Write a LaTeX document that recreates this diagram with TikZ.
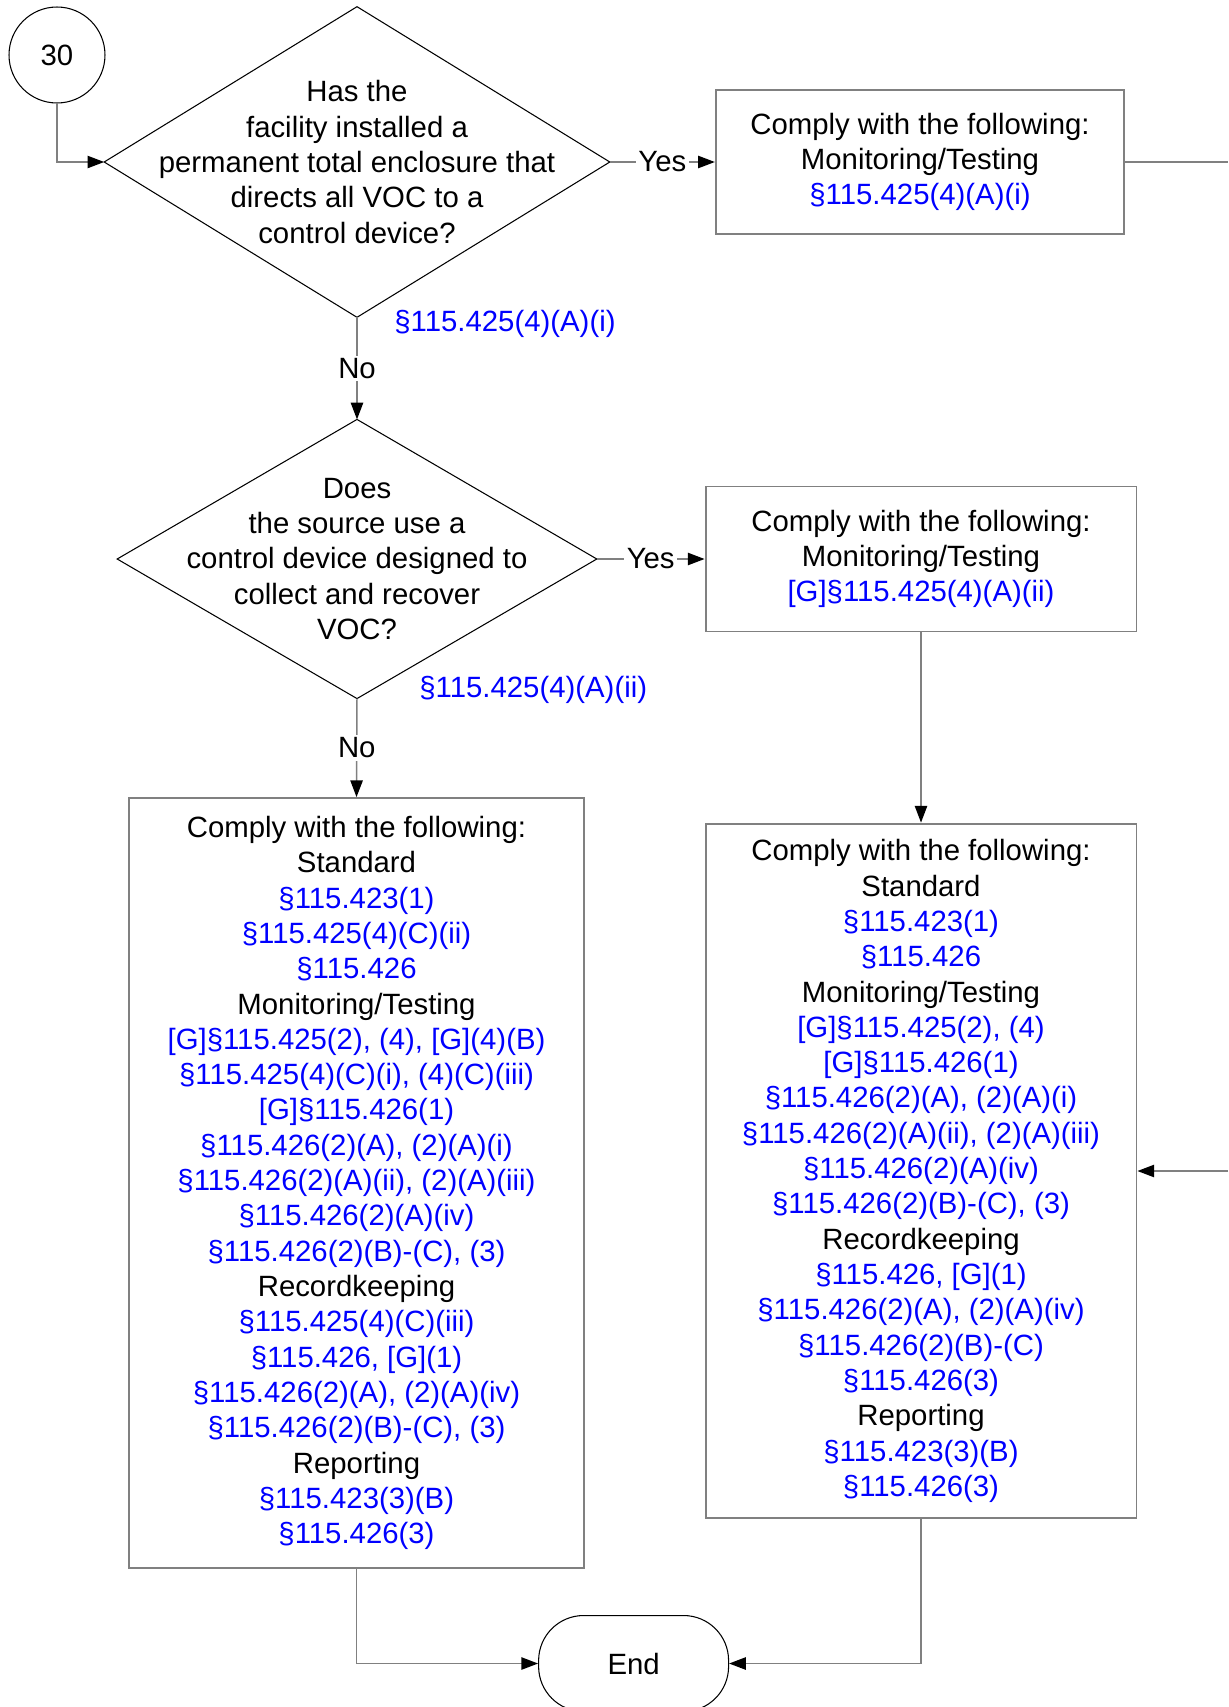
\documentclass[tikz,border=0pt]{standalone}
\usepackage{fontspec}
\setmainfont{Liberation Sans}
\usetikzlibrary{arrows.meta}
\newcommand{\regref}[1]{\textcolor{blue}{#1}}

\begin{document}
\begin{tikzpicture}[x=0.02cm,y=-0.02cm,
		every node/.style={font=\fontsize{16.7}{20.1}\selectfont},
		connector/.style={draw=gray,line width=0.85pt,-{Triangle[length=9.5pt,width=7pt,color=black]}},
		plainline/.style={draw=gray,line width=0.85pt},
		compbox/.style={draw=gray,line width=1.1pt,align=center,inner sep=0pt},
		decision/.style={align=center,inner sep=0pt},
		dborder/.style={draw=black,line width=0.6pt},
		regtag/.style={text=blue,inner sep=0pt,anchor=west},
		choice/.style={fill=white,inner sep=1.5pt}]
			\useasboundingbox (0,0) rectangle (1228,1707);
			
			% start connector and the two questions
			\node[circle,draw=black,line width=0.6pt,minimum size=1.92cm,inner sep=0pt] (start) at (57,55) {30};
			\node[decision,minimum width=10.1cm,minimum height=6.2cm] (q1) at (357,162)
			{Has the\\facility installed a\\permanent total enclosure that\\directs all VOC to a\\control device?};
			\node[decision,minimum width=9.58cm,minimum height=5.57cm] (q2) at (357,559)
			{Does\\the source use a\\control device designed to\\collect and recover\\VOC?};
			\foreach \q in {q1,q2}
			\draw[dborder] (\q.north) -- (\q.east) -- (\q.south) -- (\q.west) -- cycle;
			
			\node[regtag] (tag1) at (394,324) {§115.425(4)(A)(i)};
			\node[regtag] (tag2) at (419,690) {§115.425(4)(A)(ii)};
			
			% requirement boxes
			\node[compbox,minimum width=8.17cm,minimum height=2.87cm] (mon1) at (920,162)
			{Comply with the following:\\Monitoring/Testing\\\regref{§115.425(4)(A)(i)}};
			\node[compbox,minimum width=8.62cm,minimum height=2.9cm] (mon2) at (921,559)
			{Comply with the following:\\Monitoring/Testing\\\regref{[G]§115.425(4)(A)(ii)}};
			\node[compbox,minimum width=9.12cm,minimum height=15.4cm] (full) at (356.5,1183)
			{Comply with the following:\\Standard\\
				\regref{§115.423(1)}\\\regref{§115.425(4)(C)(ii)}\\\regref{§115.426}\\
				Monitoring/Testing\\
				\regref{[G]§115.425(2), (4), [G](4)(B)}\\\regref{§115.425(4)(C)(i), (4)(C)(iii)}\\
				\regref{[G]§115.426(1)}\\\regref{§115.426(2)(A), (2)(A)(i)}\\
				\regref{§115.426(2)(A)(ii), (2)(A)(iii)}\\\regref{§115.426(2)(A)(iv)}\\
				\regref{§115.426(2)(B)-(C), (3)}\\
				Recordkeeping\\
				\regref{§115.425(4)(C)(iii)}\\\regref{§115.426, [G](1)}\\
				\regref{§115.426(2)(A), (2)(A)(iv)}\\\regref{§115.426(2)(B)-(C), (3)}\\
				Reporting\\
				\regref{§115.423(3)(B)}\\\regref{§115.426(3)}};
			\node[compbox,minimum width=8.62cm,minimum height=13.9cm] (part) at (921,1171)
			{Comply with the following:\\Standard\\
				\regref{§115.423(1)}\\\regref{§115.426}\\
				Monitoring/Testing\\
				\regref{[G]§115.425(2), (4)}\\\regref{[G]§115.426(1)}\\
				\regref{§115.426(2)(A), (2)(A)(i)}\\\regref{§115.426(2)(A)(ii), (2)(A)(iii)}\\
				\regref{§115.426(2)(A)(iv)}\\\regref{§115.426(2)(B)-(C), (3)}\\
				Recordkeeping\\
				\regref{§115.426, [G](1)}\\\regref{§115.426(2)(A), (2)(A)(iv)}\\
				\regref{§115.426(2)(B)-(C)}\\\regref{§115.426(3)}\\
				Reporting\\
				\regref{§115.423(3)(B)}\\\regref{§115.426(3)}};
			\node[draw=black,line width=0.6pt,rounded corners=0.9cm,minimum width=3.8cm,minimum height=1.92cm] (end) at (633.6,1663.5) {End};
			
			% off-page ends
			\coordinate (outA) at (1228,162);
			\coordinate (inB) at (1228,1171);
			
			\draw[connector] (start.south) |- (q1.west);
			\draw[connector] (q1.east) -- node[choice] {Yes} (mon1.west);
			\draw[connector] (q1.south) -- node[choice] {No} (q2.north);
			\draw[connector] (q2.east) -- node[choice] {Yes} (mon2.west);
			\draw[connector] (q2.south) -- node[choice] {No} (full.north);
			\draw[connector] (mon2.south) -- (part.north);
			\draw[plainline] (mon1.east) -- (outA);
			\draw[connector] (inB) -- (part.east);
			\draw[connector] (full.south) |- (end.west);
			\draw[connector] (part.south) |- (end.east);
\end{tikzpicture}
\end{document}
